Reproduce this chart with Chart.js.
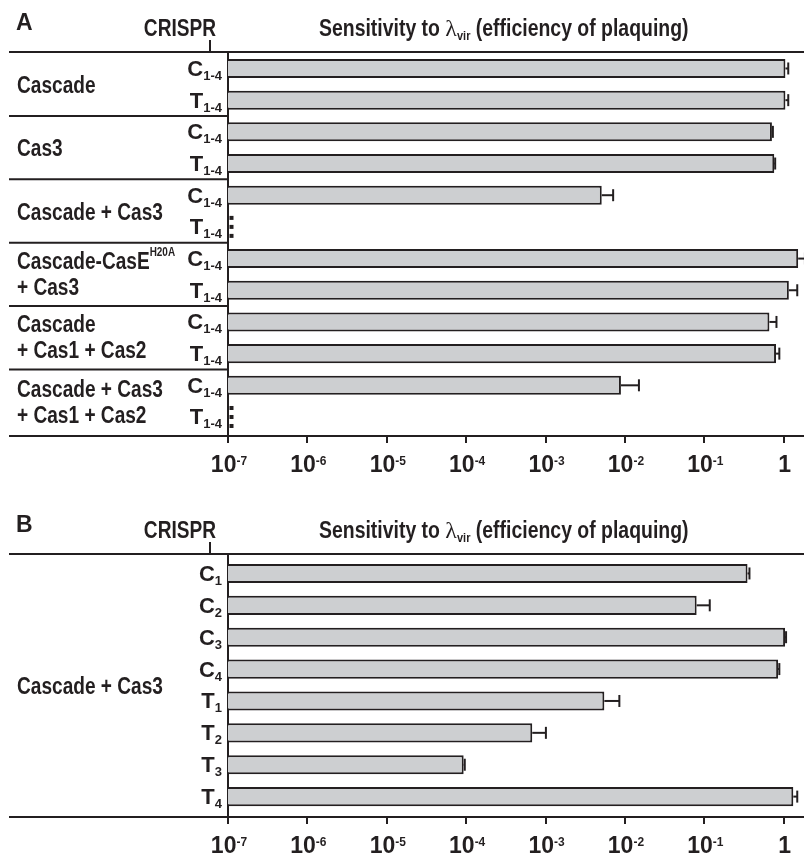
<!DOCTYPE html>
<html><head><meta charset="utf-8">
<script src="https://cdn.jsdelivr.net/npm/chart.js@4.4.1/dist/chart.umd.min.js"></script>
<style>
html,body{margin:0;padding:0;background:#fff;}
#wrap{position:relative;width:804px;height:855px;overflow:hidden;}
canvas{position:absolute;left:0;top:0;}
</style></head><body>
<div id="wrap"><canvas id="ca" width="804" height="855"></canvas><canvas id="cb" width="804" height="855"></canvas></div>
<script>
// ---------- data ----------
const tickValues = [1e-7, 1e-6, 1e-5, 1e-4, 1e-3, 1e-2, 1e-1, 1];
const tickBase = ['10', '10', '10', '10', '10', '10', '10', '1'];
const tickExp = ['-7', '-6', '-5', '-4', '-3', '-2', '-1', ''];

const rowLabelsA = ['C1-4','T1-4','C1-4','T1-4','C1-4','T1-4','C1-4','T1-4','C1-4','T1-4','C1-4','T1-4'];
const valuesA   = [1.05, 1.05, 0.71, 0.76, 0.0051, null, 1.52, 1.16, 0.66, 0.80, 0.0089, null];
const errHighA  = [1.14, 1.14, 0.73, 0.78, 0.0071, null, 1.85, 1.48, 0.81, 0.88, 0.015, null];
const groupLinesA = [['Cascade'], ['Cas3'], ['Cascade + Cas3'], ['Cascade-CasE^H20A', '+ Cas3'], ['Cascade', '+ Cas1 + Cas2'], ['Cascade + Cas3', '+ Cas1 + Cas2']];
const groupSizesA = [2, 2, 2, 2, 2, 2];

const rowLabelsB = ['C1','C2','C3','C4','T1','T2','T3','T4'];
const valuesB   = [0.35, 0.080, 1.04, 0.85, 0.0055, 0.00068, 0.000093, 1.32];
const errHighB  = [0.37, 0.117, 1.07, 0.88, 0.0085, 0.00101, 0.000096, 1.48];
const groupLinesB = [['Cascade + Cas3']];
const groupSizesB = [8];

const panelLetters = ['A', 'B'];
const axisTitleParts = ['Sensitivity to ', 'λ', 'vir', ' (efficiency of plaquing)'];
const sideTitle = 'CRISPR';

// ---------- style ----------
const FONT = '"Liberation Sans", Arimo, Arial, Helvetica, sans-serif';
const INK = '#231f20';
const FILL = '#cdcfd1';
const SX = 0.83;

function drawRuns(ctx, parts, x, y, align) {
  let total = 0;
  const ws = parts.map(p => {
    ctx.font = `${p.weight || 'bold'} ${p.size}px ${p.family || FONT}`;
    const w = ctx.measureText(p.t).width * (p.sx || 1);
    total += w; return w;
  });
  let cx = align === 'right' ? x - total : align === 'center' ? x - total / 2 : x;
  parts.forEach((p, i) => {
    ctx.save();
    ctx.font = `${p.weight || 'bold'} ${p.size}px ${p.family || FONT}`;
    ctx.fillStyle = INK; ctx.textAlign = 'left'; ctx.textBaseline = 'alphabetic';
    ctx.translate(cx, y + (p.dy || 0)); ctx.scale(p.sx || 1, 1);
    ctx.fillText(p.t, 0, 0);
    ctx.restore();
    cx += ws[i];
  });
  return total;
}
function hline(ctx, x0, x1, y) { ctx.beginPath(); ctx.moveTo(x0, y); ctx.lineTo(x1, y); ctx.stroke(); }
function vline(ctx, x, y0, y1) { ctx.beginPath(); ctx.moveTo(x, y0); ctx.lineTo(x, y1); ctx.stroke(); }

function makePanel(canvasId, letter, rowLabels, values, errHigh, groupLines, groupSizes, top, bottom, yMin, yMax) {
  const deco = {
    id: 'deco',
    afterDatasetsDraw(chart) {
      const ctx = chart.ctx, xs = chart.scales.x, ys = chart.scales.y;
      ctx.save();
      ctx.strokeStyle = INK; ctx.fillStyle = INK; ctx.lineWidth = 2;
      values.forEach((v, i) => {
        const yc = ys.getPixelForValue(i);
        if (v === null) {
          const x0 = xs.getPixelForValue(xs.min) + 1.5;
          [-9, 0, 9].forEach(d => ctx.fillRect(x0, yc + d - 2, 4, 4));
          return;
        }
        const e = errHigh[i];
        if (e === null) return;
        const xa = xs.getPixelForValue(v), xb = xs.getPixelForValue(e);
        hline(ctx, xa, xb, yc);
        vline(ctx, xb, yc - 6, yc + 6);
      });
      ctx.restore();
    },
    afterDraw(chart) {
      const ctx = chart.ctx, xs = chart.scales.x, ys = chart.scales.y, ca = chart.chartArea;
      ctx.save();
      ctx.strokeStyle = INK; ctx.lineWidth = 2;
      const leftEdge = 9;
      hline(ctx, leftEdge, ca.right, ca.top);
      hline(ctx, leftEdge, ca.left, ca.bottom);
      vline(ctx, 210, ca.top - 12, ca.top);
      // group separators + group labels
      let start = 0;
      groupSizes.forEach((n, g) => {
        const end = start + n - 1;
        const yTop = start === 0 ? ca.top : (ys.getPixelForValue(start - 1) + ys.getPixelForValue(start)) / 2;
        const yBot = end === values.length - 1 ? ca.bottom : (ys.getPixelForValue(end) + ys.getPixelForValue(end + 1)) / 2;
        if (start > 0) hline(ctx, leftEdge, ca.left, yTop);
        const yc = (yTop + yBot) / 2;
        const lines = groupLines[g];
        const bases = lines.length === 1 ? [yc + 8.5] : [yc - 5.5, yc + 20.5];
        lines.forEach((ln, k) => {
          const bits = ln.split('^');
          const parts = [{ t: bits[0], size: 23, sx: SX }];
          if (bits[1]) parts.push({ t: bits[1], size: 12, sx: SX, dy: -13 });
          drawRuns(ctx, parts, 17, bases[k], 'left');
        });
        start += n;
      });
      // row labels
      rowLabels.forEach((lab, i) => {
        const yc = ys.getPixelForValue(i);
        drawRuns(ctx, [{ t: lab[0], size: 22 }, { t: lab.slice(1), size: 13, dy: 4 }], ca.left - 6, yc + 7.5, 'right');
      });
      // x tick labels
      tickValues.forEach((v, i) => {
        const x = xs.getPixelForValue(v);
        const parts = [{ t: tickBase[i], size: 23 }];
        if (tickExp[i]) parts.push({ t: tickExp[i], size: 12, dy: -7 });
        drawRuns(ctx, parts, x + 1, ca.bottom + 36, 'center');
      });
      // headers
      drawRuns(ctx, [{ t: letter, size: 23 }], 16, ca.top - 22, 'left');
      drawRuns(ctx, [{ t: sideTitle, size: 23, sx: SX }], 216, ca.top - 16, 'right');
      drawRuns(ctx, [
        { t: axisTitleParts[0], size: 23, sx: 0.845 },
        { t: axisTitleParts[1], size: 24, weight: 'normal', family: '"Liberation Serif", "DejaVu Serif", serif' },
        { t: axisTitleParts[2], size: 13, sx: 0.845, dy: 4 },
        { t: axisTitleParts[3], size: 23, sx: 0.845 }
      ], 319, ca.top - 16, 'left');
      ctx.restore();
    }
  };

  return new Chart(document.getElementById(canvasId), {
    type: 'bar',
    data: {
      datasets: [{
        data: values.map((v, i) => ({ x: v, y: i })),
        backgroundColor: FILL,
        borderColor: INK,
        borderWidth: 2,
        barPercentage: 0.6,
        categoryPercentage: 1.0
      }]
    },
    options: {
      indexAxis: 'y',
      responsive: false,
      animation: false,
      events: [],
      layout: { padding: { left: 228, right: 0, top: top, bottom: 855 - bottom - 7 } },
      plugins: { legend: { display: false }, tooltip: { enabled: false } },
      scales: {
        x: {
          type: 'logarithmic', position: 'bottom', min: 1e-7, max: 1.8,
          afterBuildTicks: s => { s.ticks = tickValues.map(v => ({ value: v })); },
          ticks: { display: false },
          grid: { display: true, drawOnChartArea: false, drawTicks: true, tickLength: 7, tickWidth: 2, tickColor: INK, color: INK, lineWidth: 2 },
          border: { display: true, color: INK, width: 2 }
        },
        y: {
          type: 'linear', reverse: true, min: yMin, max: yMax, offset: false,
          afterBuildTicks: s => { s.ticks = values.map((v, i) => ({ value: i })); },
          ticks: { display: false },
          grid: { display: false, drawTicks: false, tickLength: 0, offset: false },
          border: { display: true, color: INK, width: 2 }
        }
      }
    },
    plugins: [deco]
  });
}

makePanel('ca', panelLetters[0], rowLabelsA, valuesA, errHighA, groupLinesA, groupSizesA, 52, 436, -0.52, 11.6);
makePanel('cb', panelLetters[1], rowLabelsB, valuesB, errHighB, groupLinesB, groupSizesB, 554, 817, -0.61, 7.64);
</script>
</body></html>
